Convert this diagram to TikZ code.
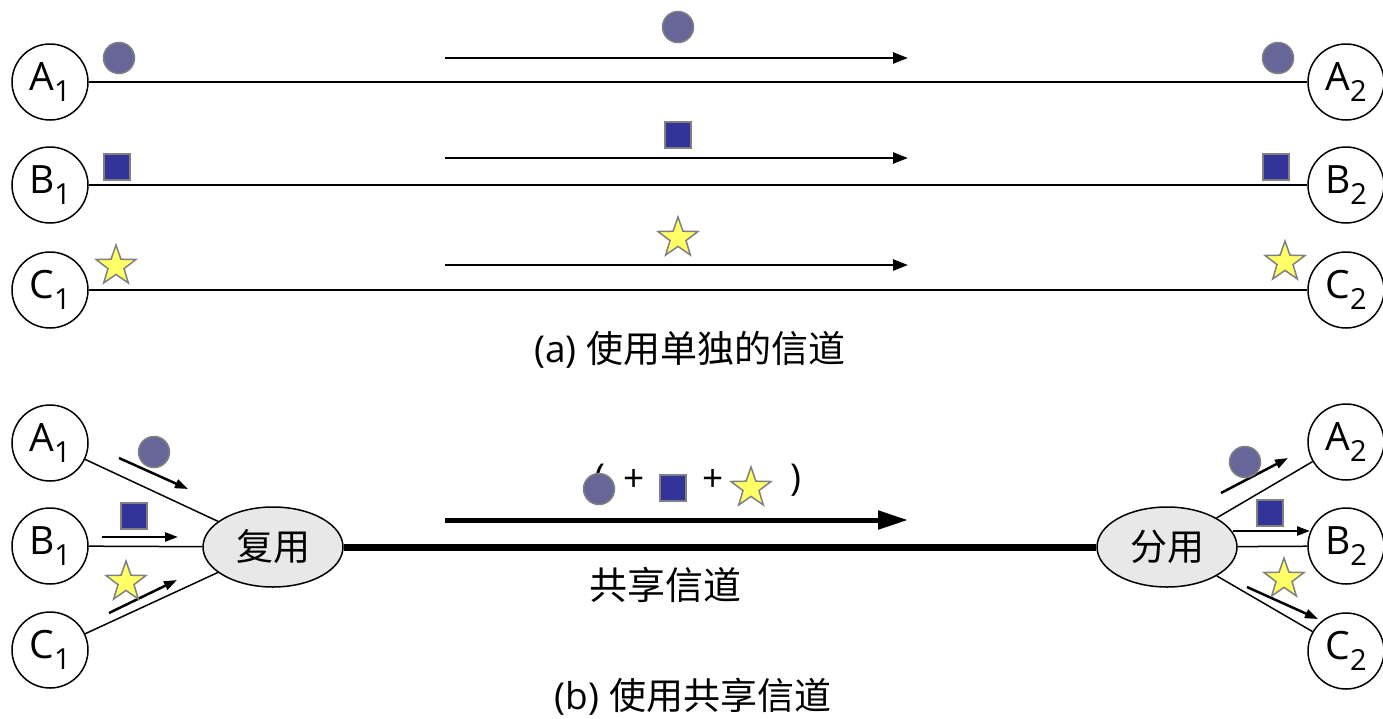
\documentclass[tikz,border=0pt]{standalone}
\usepackage{fontspec}
\setmainfont{Open Sans}
\newfontfamily\cjk{Noto Sans CJK SC}
\usetikzlibrary{shapes.geometric,arrows.meta}
\definecolor{dotcol}{RGB}{102,102,153}
\definecolor{sqcol}{RGB}{51,51,153}
\definecolor{starcol}{RGB}{255,255,102}
\newcommand\lowidx[1]{\raisebox{-0.28em}{\fontsize{29}{29}\selectfont #1}}

\tikzset{
  station/.style={circle,draw,line width=1.5pt,minimum size=76pt,inner sep=0pt,font=\fontsize{39}{39}\selectfont},
  muxbox/.style={ellipse,draw,fill=black!9,line width=1.5pt,minimum width=140pt,minimum height=80pt,inner sep=0pt,font=\cjk\fontsize{37}{37}\selectfont},
  dotmark/.style={circle,draw=gray,fill=dotcol,line width=1.5pt,minimum size=31pt,inner sep=0pt},
  sqmark/.style={rectangle,draw=gray,fill=sqcol,line width=1.5pt,minimum size=26pt,inner sep=0pt},
  starmark/.style={star,star points=5,star point ratio=2.5,draw=gray,fill=starcol,line width=1.5pt,minimum size=42pt,inner sep=0pt},
  caption/.style={font=\fontsize{37}{37}\selectfont},
  link/.style={line width=1.5pt},
  flow/.style={line width=2.5pt,-{Triangle[length=15pt,width=11pt]}},
  smallflow/.style={line width=2.5pt,-{Triangle[length=13pt,width=9pt]}},
}

\begin{document}
\begin{tikzpicture}[x=1pt,y=-1pt]
\useasboundingbox (0,0) rectangle (1383,718);

% (a) separate channels
\node[station] (a1) at (50,82) {A\lowidx{1}};
\node[station] (b1) at (50,185) {B\lowidx{1}};
\node[station] (c1) at (50,290) {C\lowidx{1}};
\node[station] (a2) at (1346,82) {A\lowidx{2}};
\node[station] (b2) at (1346,185) {B\lowidx{2}};
\node[station] (c2) at (1346,290) {C\lowidx{2}};
\draw[link] (a1) -- (a2);
\draw[link] (b1) -- (b2);
\draw[link] (c1) -- (c2);

\coordinate (fa0) at (445,58);  \coordinate (fa1) at (908,58);
\coordinate (fb0) at (445,158); \coordinate (fb1) at (908,158);
\coordinate (fc0) at (445,265); \coordinate (fc1) at (908,265);
\draw[flow] (fa0) -- (fa1);
\draw[flow] (fb0) -- (fb1);
\draw[flow] (fc0) -- (fc1);

\node[dotmark] (da1) at (119,58) {};
\node[dotmark] (da) at (678,27) {};
\node[dotmark] (da2) at (1278,58) {};
\node[sqmark] (sb1) at (117,167) {};
\node[sqmark] (sb) at (678,135) {};
\node[sqmark] (sb2) at (1276,167) {};
\node[starmark] (sc1) at (116,266) {};
\node[starmark] (sc) at (678,238) {};
\node[starmark] (sc2) at (1285,262) {};

\node[caption] (capa) at (690,350) {(a) {\cjk 使用单独的信道}};

% (b) shared channel
\node[station] (ma1) at (50,443) {A\lowidx{1}};
\node[station] (mb1) at (50,546) {B\lowidx{1}};
\node[station] (mc1) at (50,650) {C\lowidx{1}};
\node[muxbox] (fuyong) at (273,547) {复用};
\node[muxbox] (fenyong) at (1167,547) {分用};
\node[station] (ma2) at (1346,442) {A\lowidx{2}};
\node[station] (mb2) at (1346,546) {B\lowidx{2}};
\node[station] (mc2) at (1346,651) {C\lowidx{2}};

\draw[link] (ma1) -- (fuyong);
\draw[link] (mb1) -- (fuyong);
\draw[link] (mc1) -- (fuyong);
\draw[line width=7pt] (fuyong) -- (fenyong);
\draw[link] (fenyong) -- (ma2);
\draw[link] (fenyong) -- (mb2);
\draw[link] (fenyong) -- (mc2);

\coordinate (ia0) at (119,458);  \coordinate (ia1) at (188,489);
\coordinate (ib0) at (102,537);  \coordinate (ib1) at (178,537);
\coordinate (ic0) at (109,613);  \coordinate (ic1) at (177,580);
\draw[smallflow] (ia0) -- (ia1);
\draw[smallflow] (ib0) -- (ib1);
\draw[smallflow] (ic0) -- (ic1);
\coordinate (oa0) at (1221,493); \coordinate (oa1) at (1288,458);
\coordinate (ob0) at (1233,531); \coordinate (ob1) at (1310,531);
\coordinate (oc0) at (1247,587); \coordinate (oc1) at (1318,619);
\draw[smallflow] (oa0) -- (oa1);
\draw[smallflow] (ob0) -- (ob1);
\draw[smallflow] (oc0) -- (oc1);

\node[dotmark] (mda1) at (154,452) {};
\node[sqmark] (msb1) at (134,516) {};
\node[starmark] (msc1) at (126,582) {};
\node[dotmark] (mda2) at (1245,462) {};
\node[sqmark] (msb2) at (1270,513) {};
\node[starmark] (msc2) at (1284,579) {};

\coordinate (sh0) at (445,520); \coordinate (sh1) at (908,520);
\draw[line width=5pt,-{Triangle[length=30pt,width=18pt]}] (sh0) -- (sh1);
\node[caption] (lpar) at (600,480) {(};
\node[dotmark] (mix1) at (599,489) {};
\node[caption] (plus1) at (634,480) {+};
\node[sqmark] (mix2) at (673,488) {};
\node[caption] (plus2) at (713,480) {+};
\node[starmark] (mix3) at (751,488) {};
\node[caption] (rpar) at (796,480) {)};
\node[caption,font=\cjk\fontsize{38}{38}\selectfont] (shared) at (665,585) {共享信道};

\node[caption] (capb) at (693,697) {(b) {\cjk 使用共享信道}};
\end{tikzpicture}
\end{document}
